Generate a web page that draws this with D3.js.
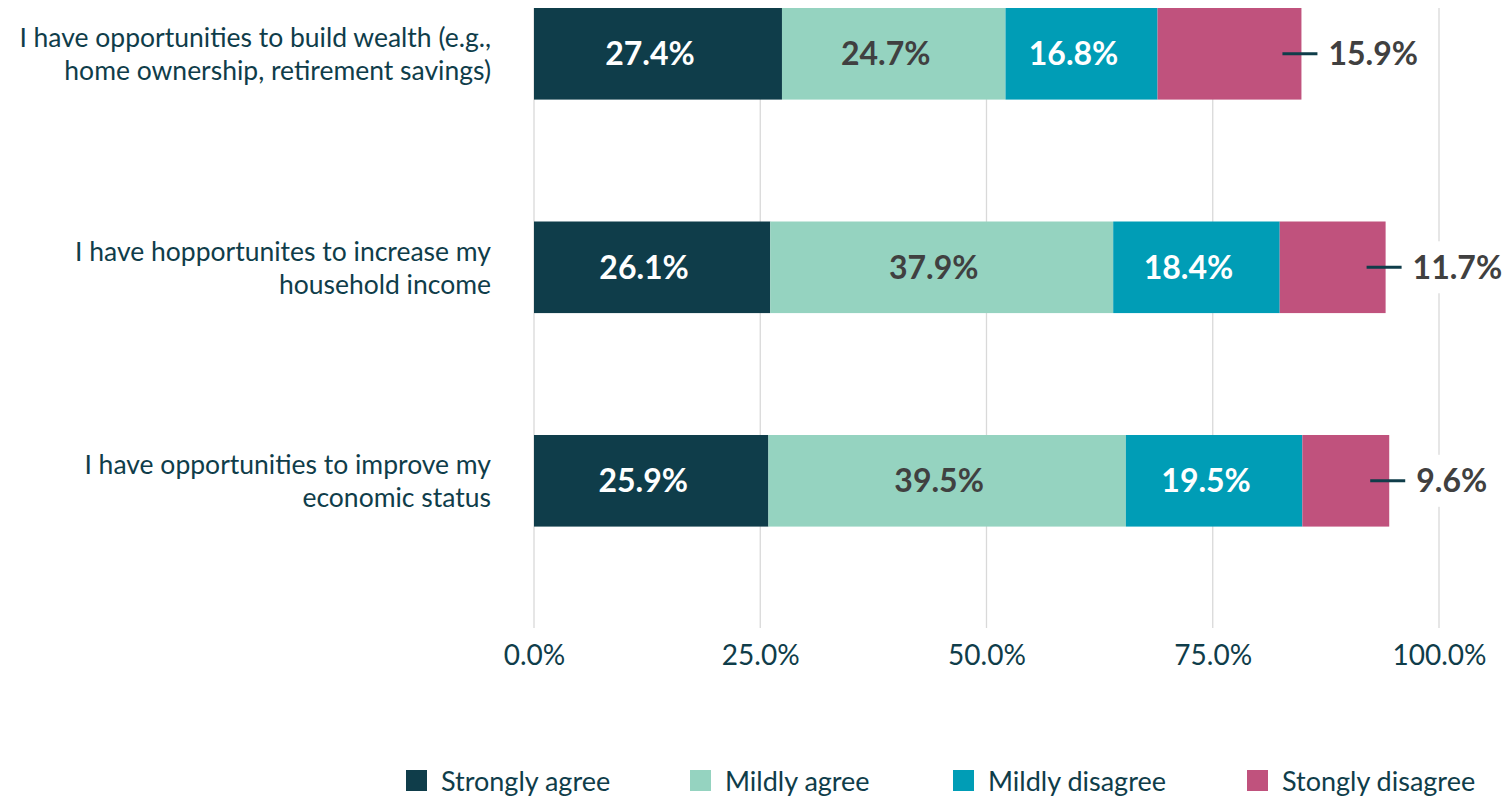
<!DOCTYPE html>
<html>
<head>
<meta charset="utf-8">
<script src="https://cdn.jsdelivr.net/npm/d3@7"></script>
<style>
  html, body { margin: 0; padding: 0; background: #fff; }
  svg { display: block; font-family: Lato, "Open Sans", sans-serif; }
</style>
</head>
<body>
<svg id="chart" width="1507" height="798"></svg>
<script>
// Chart data
const statements = [
    ['I have opportunities to build wealth (e.g.,', 'home ownership, retirement savings)'],
    ['I have hopportunites to increase my', 'household income'],
    ['I have opportunities to improve my', 'economic status']
];
const seriesNames = ['Strongly agree', 'Mildly agree', 'Mildly disagree', 'Stongly disagree'];
const strongAgree = [27.4, 26.1, 25.9];
const mildAgree = [24.7, 37.9, 39.5];
const mildDisagree = [16.8, 18.4, 19.5];
const strongDisagree = [15.9, 11.7, 9.6];
const xTicks = [0, 25, 50, 75, 100];

const colors = ['#0f3d4a', '#95d3c0', '#009db6', '#c0527d'];
const labelColors = ['#ffffff', '#404040', '#ffffff', '#404040'];
const textColor = '#0f3d4a';

const svg = d3.select('#chart');

// Build rows for the stack
const seriesValues = [strongAgree, mildAgree, mildDisagree, strongDisagree];
const rows = statements.map((s, i) => {
    const row = { id: i };
    seriesNames.forEach((k, j) => { row[k] = seriesValues[j][i]; });
    return row;
});
const series = d3.stack().keys(seriesNames)(rows);

// Scales
const x = d3.scaleLinear().domain([0, 100]).range([534, 1439]);
const y = d3.scaleBand()
    .domain(rows.map(d => d.id))
    .range([8, 628])
    .paddingInner(0.571)
    .paddingOuter(0.2375)
    .align(0);

// Gridlines
svg.append('g')
    .selectAll('line')
    .data(xTicks)
    .join('line')
    .attr('x1', d => x(d))
    .attr('x2', d => x(d))
    .attr('y1', 8)
    .attr('y2', 628)
    .attr('stroke', '#d9d9d9')
    .attr('stroke-width', 1.3);

// X axis tick labels
const xAxis = svg.append('g')
    .attr('transform', 'translate(0,628)')
    .call(d3.axisBottom(x).tickValues(xTicks).tickFormat(d => d.toFixed(1) + '%').tickSize(0).tickPadding(17));
xAxis.select('.domain').remove();
xAxis.selectAll('text')
    .attr('font-size', '28px')
    .attr('font-family', 'Lato, sans-serif')
    .attr('fill', textColor);

// Stacked bars
const groups = svg.selectAll('.bar-group')
    .data(series)
    .join('g')
    .attr('class', 'bar-group')
    .attr('fill', (d, i) => colors[i]);

groups.selectAll('rect')
    .data(d => d)
    .join('rect')
    .attr('x', d => x(d[0]))
    .attr('y', d => y(d.data.id))
    .attr('width', d => x(d[1]) - x(d[0]))
    .attr('height', y.bandwidth());

// Labels inside the first three segments
series.slice(0, 3).forEach((s, i) => {
    svg.append('g')
        .selectAll('text')
        .data(s)
        .join('text')
        .attr('x', d => (x(d[0]) + x(d[1])) / 2 - 8)
        .attr('y', d => y(d.data.id) + y.bandwidth() / 2)
        .attr('dy', '0.36em')
        .attr('text-anchor', 'middle')
        .attr('font-size', '32px')
        .attr('font-weight', 700)
        .attr('fill', labelColors[i])
        .text(d => (d[1] - d[0]).toFixed(1) + '%');
});

// Last segment: leader line + outside label with white background
const last = series[3];
const callouts = svg.append('g')
    .selectAll('g')
    .data(last)
    .join('g')
    .attr('transform', d => `translate(${x(d[1])},${y(d.data.id) + y.bandwidth() / 2})`);

callouts.append('rect')
    .attr('x', 22)
    .attr('y', -26)
    .attr('width', 100)
    .attr('height', 52)
    .attr('fill', '#fff');

callouts.append('line')
    .attr('x1', -19)
    .attr('x2', 16)
    .attr('stroke', textColor)
    .attr('stroke-width', 3);

callouts.append('text')
    .attr('x', 27)
    .attr('dy', '0.36em')
    .attr('font-size', '32px')
    .attr('font-weight', 700)
    .attr('fill', '#404040')
    .text(d => (d[1] - d[0]).toFixed(1) + '%');

// Category labels (two lines, right aligned)
svg.append('g')
    .selectAll('text')
    .data(statements)
    .join('text')
    .attr('text-anchor', 'end')
    .attr('font-size', '26.5px')
    .attr('fill', textColor)
    .attr('transform', (d, i) => `translate(491,${y(i) + y.bandwidth() / 2})`)
    .selectAll('tspan')
    .data(d => d)
    .join('tspan')
    .attr('x', 0)
    .attr('y', (d, i) => i === 0 ? -16 : 17)
    .attr('dy', '0.36em')
    .text(d => d);

// Legend
const legendX = [406, 690, 953, 1247];
const legend = svg.append('g')
    .selectAll('g')
    .data(seriesNames)
    .join('g')
    .attr('transform', (d, i) => `translate(${legendX[i]},770)`);

legend.append('rect')
    .attr('width', 21)
    .attr('height', 21)
    .attr('fill', (d, i) => colors[i]);

legend.append('text')
    .attr('x', 35)
    .attr('y', 11)
    .attr('dy', '0.36em')
    .attr('font-size', '27px')
    .attr('fill', textColor)
    .text(d => d);
</script>
</body>
</html>
